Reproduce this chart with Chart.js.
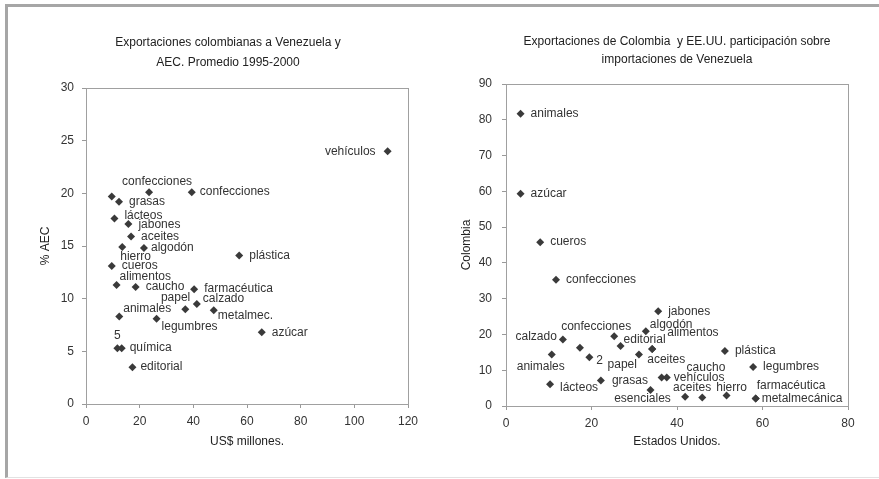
<!DOCTYPE html>
<html>
<head>
<meta charset="utf-8">
<script src="https://cdn.jsdelivr.net/npm/chart.js@4.4.1/dist/chart.umd.min.js"></script>
<style>
  html, body { margin: 0; padding: 0; background: #fff; overflow: hidden; }
  body { width: 879px; height: 479px; position: relative; }
  #frame { position: absolute; left: 5px; top: 4px; width: 880px; height: 470px;
           border-top: 3px solid #a6a6a6; border-left: 3px solid #a6a6a6; border-bottom: 1px solid #e2e2e2; }
  canvas { position: absolute; top: 0; }
  #left { left: 6px; }
  #right { left: 450px; }
</style>
</head>
<body>
<div id="frame"></div>
<canvas id="left" width="422" height="479"></canvas>
<canvas id="right" width="429" height="479"></canvas>
<script>
// Left chart: exports to Venezuela (US$ millones) vs % AEC
const leftNames = ['', 'confecciones', 'confecciones', 'grasas', 'lácteos', 'jabones', 'aceites', 'hierro',
    'algodón', 'cueros', 'plástica', 'alimentos', 'caucho', 'farmacéutica', 'calzado', 'papel',
    'metalmec.', 'animales', 'legumbres', 'azúcar', '5', 'química', 'editorial', 'vehículos'];
const leftX = [9.6, 23.5, 39.4, 12.3, 10.6, 15.8, 16.8, 13.5, 21.6, 9.6, 57.1, 11.4, 18.5, 40.3, 41.3, 37.0,
    47.6, 12.4, 26.3, 65.5, 11.7, 13.3, 17.3, 112.4];
const leftY = [19.7, 20.1, 20.1, 19.2, 17.6, 17.1, 15.9, 14.9, 14.8, 13.1, 14.1, 11.3, 11.1, 10.9, 9.5, 9.0,
    8.9, 8.3, 8.1, 6.8, 5.3, 5.3, 3.5, 24.0];
const leftXTicks = [0, 20, 40, 60, 80, 100, 120];
const leftYTicks = [0, 5, 10, 15, 20, 25, 30];

// Right chart: share of Venezuelan imports, Estados Unidos vs Colombia
const rightNames = ['animales', 'azúcar', 'cueros', 'confecciones', 'jabones', 'algodón', 'alimentos', 'editorial',
    'confecciones', 'calzado', '', '2', 'animales', 'papel', 'aceites', 'lácteos', 'grasas', 'esenciales',
    'caucho', 'vehículos', 'aceites', '', 'hierro', 'plástica', 'legumbres', 'metalmecánica', 'farmacéutica'];
const rightX = [3.4, 3.4, 8.0, 11.7, 35.6, 32.7, 34.2, 26.8, 25.3, 13.3, 17.3, 19.5, 10.7, 31.1, 34.2, 10.3,
    22.2, 33.8, 36.4, 37.6, 41.9, 45.9, 51.6, 51.2, 57.8, 58.4, 58.4];
const rightY = [81.7, 59.3, 45.8, 35.3, 26.5, 20.9, 15.9, 16.8, 19.5, 18.6, 16.3, 13.6, 14.4, 14.4, 15.9, 6.1,
    7.1, 4.5, 8.0, 8.0, 2.6, 2.4, 2.9, 15.4, 10.9, 2.1, 2.1];
const rightXTicks = [0, 20, 40, 60, 80];
const rightYTicks = [0, 10, 20, 30, 40, 50, 60, 70, 80, 90];

// label placement next to each point: [dx, dy, align]
const leftLabelOffsets = [[0, 0, 'l'], [8, -11, 'c'], [8, -1, 'l'], [10, 0, 'l'], [10, -3, 'l'], [10, 1, 'l'],
    [10, 0, 'l'], [-2, 10, 'l'], [7, 0, 'l'], [10, 0, 'l'], [10, 0, 'l'], [3, -8, 'l'], [10, 0, 'l'],
    [10, 0, 'l'], [6, -5, 'l'], [5, -12, 'r'], [4, 5, 'l'], [4, -8, 'l'], [5, 8, 'l'], [10, 0, 'l'],
    [0, -12, 'c'], [8, 0, 'l'], [8, 0, 'l'], [-12, 0, 'r']];
const rightLabelOffsets = [[10, 0, 'l'], [10, 0, 'l'], [10, 0, 'l'], [10, 0, 'l'], [10, 0, 'l'], [4, -7, 'l'],
    [15, -16, 'l'], [3, -6, 'l'], [-18, -10, 'c'], [-6, -3, 'r'], [0, 0, 'l'], [7, 3, 'l'], [-11, 12, 'c'],
    [-2, 10, 'r'], [-5, 11, 'l'], [10, 4, 'l'], [11, 0, 'l'], [-8, 9, 'c'], [25, -10, 'l'], [7, 0, 'l'],
    [7, -9, 'c'], [0, 0, 'l'], [5, -8, 'c'], [10, 0, 'l'], [10, 0, 'l'], [6, 0, 'l'], [1, -13, 'l']];

const FONT = "'Liberation Sans', Arial, sans-serif";
Chart.defaults.font.family = FONT;
Chart.defaults.font.size = 12;
Chart.defaults.color = '#333';

// thin grey box round the plot area
const plotFrame = {
    id: 'plotFrame',
    beforeDatasetsDraw(chart) {
        const {ctx, chartArea: a} = chart;
        ctx.save();
        ctx.strokeStyle = '#a0a0a0';
        ctx.lineWidth = 1;
        ctx.strokeRect(Math.round(a.left) + 0.5, Math.round(a.top) + 0.5,
            Math.round(a.right - a.left), Math.round(a.bottom - a.top));
        ctx.restore();
    }
};

// write the category name beside each diamond
function makeLabelPlugin(names, offsets) {
    return {
        id: 'pointLabels',
        afterDatasetsDraw(chart) {
            const ctx = chart.ctx;
            ctx.save();
            ctx.font = '12px ' + FONT;
            ctx.fillStyle = '#333';
            ctx.textBaseline = 'middle';
            chart.getDatasetMeta(0).data.forEach((pt, i) => {
                if (!names[i]) return;
                const [dx, dy, align] = offsets[i];
                ctx.textAlign = align === 'r' ? 'right' : align === 'c' ? 'center' : 'left';
                ctx.fillText(names[i], pt.x + dx, pt.y + dy);
            });
            ctx.restore();
        }
    };
}

function makeAxis(min, max, tickValues, title, cfg) {
    return {
        type: 'linear',
        min,
        max,
        afterBuildTicks: s => { s.ticks = tickValues.map(value => ({value})); },
        afterFit: cfg.fit,
        border: {display: true, color: '#999'},
        grid: {drawOnChartArea: false, drawTicks: true, tickLength: 4, color: '#999'},
        ticks: {color: '#333', padding: cfg.tickPad, font: {size: 12}},
        title: {display: true, text: title, color: '#222', font: {size: 12}, padding: cfg.titlePad}
    };
}

function createScatter(canvas, xs, ys, names, offsets, opts) {
    return new Chart(canvas, {
        type: 'scatter',
        data: {
            datasets: [{
                data: xs.map((x, i) => ({x, y: ys[i]})),
                pointStyle: 'rectRot',
                pointRadius: 4,
                pointHoverRadius: 4,
                backgroundColor: '#3a3a3a',
                borderColor: '#3a3a3a',
                borderWidth: 0
            }]
        },
        options: {
            responsive: false,
            animation: false,
            devicePixelRatio: 1,
            layout: {padding: opts.padding},
            plugins: {
                legend: {display: false},
                tooltip: {enabled: false},
                title: opts.title
            },
            scales: {x: opts.x, y: opts.y}
        },
        plugins: [plotFrame, makeLabelPlugin(names, offsets)]
    });
}

createScatter(document.getElementById('left'), leftX, leftY, leftNames, leftLabelOffsets, {
    padding: {left: 42, right: 20, top: 0, bottom: 0},
    title: {
        display: true,
        text: ['Exportaciones colombianas a Venezuela y', 'AEC. Promedio 1995-2000'],
        color: '#222',
        font: {size: 12, weight: 'normal', lineHeight: '20px'},
        padding: {top: 33, bottom: 15}
    },
    x: makeAxis(0, 120, leftXTicks, 'US$ millones.', {
        fit: s => { s.height = 75; }, tickPad: 6, titlePad: {top: 0, bottom: 30}
    }),
    y: makeAxis(0, 30, leftYTicks, '% AEC', {
        fit: s => { s.width = 38; }, tickPad: 8, titlePad: {top: -10, bottom: 0}
    })
});

createScatter(document.getElementById('right'), rightX, rightY, rightNames, rightLabelOffsets, {
    padding: {left: 0, right: 31, top: 0, bottom: 0},
    title: {
        display: true,
        fullSize: false,
        text: ['Exportaciones de Colombia  y EE.UU. participación sobre', 'importaciones de Venezuela'],
        color: '#222',
        font: {size: 12, weight: 'normal', lineHeight: '18px'},
        padding: {top: 33, bottom: 15}
    },
    x: makeAxis(0, 80, rightXTicks, 'Estados Unidos.', {
        fit: s => { s.height = 73; }, tickPad: 6, titlePad: {top: 0, bottom: 30}
    }),
    y: makeAxis(0, 90, rightYTicks, 'Colombia', {
        fit: s => { s.width = 56; }, tickPad: 10, titlePad: {top: 9, bottom: 0}
    })
});
</script>
</body>
</html>
